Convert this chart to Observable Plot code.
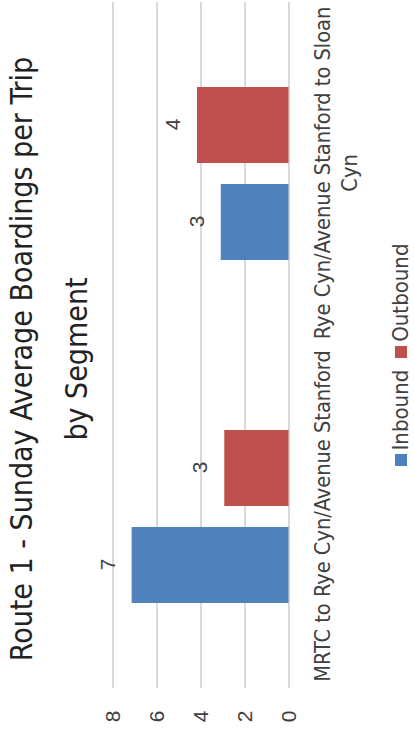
<!DOCTYPE html>
<html>
<head>
<meta charset="utf-8">
<script src="https://cdn.jsdelivr.net/npm/d3@7"></script>
<script src="https://cdn.jsdelivr.net/npm/@observablehq/plot@0.6"></script>
<style>
  html, body { margin: 0; padding: 0; background: #fff; overflow: hidden; width: 414px; height: 740px; }
  #wrap { position: absolute; left: 0; top: 0; width: 740px; height: 414px;
          transform-origin: 0 0; transform: translate(0px, 740px) rotate(-90deg); background: #fff; }
  .narrow { font-family: "DejaVu Sans Condensed", "Liberation Sans Narrow", "Roboto Condensed", sans-serif; }
  .tline { position: absolute; left: 0; width: 762px; text-align: center; font-size: 30px; line-height: 30px; color: #222; white-space: nowrap; }
  #chart { position: absolute; left: 0; top: 0; }
  #legend { position: absolute; left: 0; width: 770px; top: 388px; display: flex; justify-content: center; gap: 12px; font-size: 22px; line-height: 26px; color: #404040; }
  #legend .item { display: flex; align-items: center; gap: 4px; }
  #legend .sw { width: 12px; height: 12px; display: inline-block; }
</style>
</head>
<body>
<div id="wrap">
  <div id="chart"></div>
  <div class="tline narrow" style="top:7px">Route 1 - Sunday Average Boardings per Trip</div>
  <div class="tline narrow" style="top:62px">by Segment</div>
  <div id="legend" class="narrow"></div>
</div>
<script>
const categories = ["MRTC to Rye Cyn/Avenue Stanford", "Rye Cyn/Avenue Stanford to Sloan Cyn"];
const categoryLabels = ["MRTC to Rye Cyn/Avenue Stanford", "Rye Cyn/Avenue Stanford to Sloan\nCyn"];
const series = ["Inbound", "Outbound"];
const inbound = [7.13, 3.08];
const outbound = [2.92, 4.16];
const colors = ["#4F81BD", "#C0504D"];
const yTicks = [0, 2, 4, 6, 8];

const data = [];
categories.forEach((c, i) => {
  data.push({category: c, series: "Inbound", value: inbound[i]});
  data.push({category: c, series: "Outbound", value: outbound[i]});
});

const narrow = '"DejaVu Sans Condensed", "Liberation Sans Narrow", "Roboto Condensed", sans-serif';

const chart = Plot.plot({
  width: 740,
  height: 414,
  marginTop: 112.5,
  marginBottom: 125.5,
  marginLeft: 51,
  marginRight: 2,
  style: {fontFamily: '"Liberation Sans", Arial, sans-serif', fontSize: "21px", color: "#404040", background: "transparent"},
  fx: {domain: categories, padding: 0},
  x: {domain: series, paddingInner: 0.212, paddingOuter: 0.865, axis: null},
  y: {domain: [0, 8], axis: null},
  color: {domain: series, range: colors},
  marks: [
    Plot.gridY(yTicks, {stroke: "#D9D9D9", strokeWidth: 2, strokeOpacity: 1}),
    Plot.axisY(yTicks, {anchor: "left", tickSize: 0, tickPadding: 23, fontSize: 21, fill: "#404040", label: null}),
    Plot.axisFx({anchor: "bottom", tickSize: 0, tickPadding: 21.5, lineAnchor: "top", fontSize: 21.6, lineHeight: 1.25,
      fontFamily: narrow, fill: "#404040",
      tickFormat: d => categoryLabels[categories.indexOf(d)], label: null}),
    Plot.barY(data, {fx: "category", x: "series", y: "value", fill: "series"}),
    Plot.text(data, {fx: "category", x: "series", y: "value", text: d => d3.format(".0f")(d.value),
      lineAnchor: "bottom", dy: -17.5, fontSize: 21, fill: "#404040"})
  ]
});
document.getElementById("chart").appendChild(chart);

const legend = document.getElementById("legend");
series.forEach((s, i) => {
  const item = document.createElement("span");
  item.className = "item";
  item.innerHTML = `<span class="sw" style="background:${colors[i]}"></span><span>${s}</span>`;
  legend.appendChild(item);
});
</script>
</body>
</html>
